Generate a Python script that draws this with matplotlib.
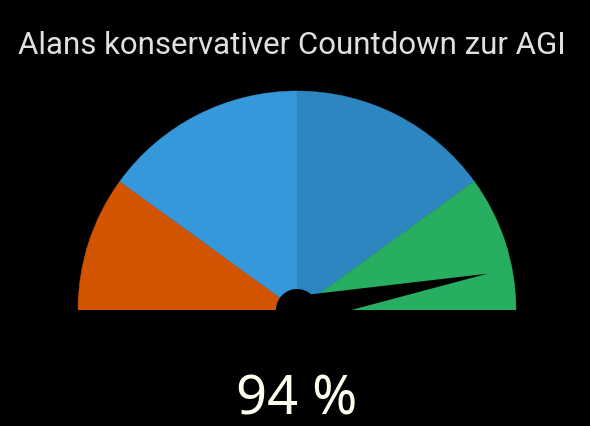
import numpy as np
import matplotlib.pyplot as plt
from matplotlib.patches import Wedge, Circle, Polygon

# Daten
titel = 'Alans konservativer Countdown zur AGI'
grenzen = [0, 20, 50, 80, 100]          # Segmentgrenzen in %
farben = ['#d35400', '#3498db', '#2e86c1', '#27ae60']
wert = 94

fig = plt.figure(figsize=(5.9, 4.27), dpi=100, facecolor='black')
ax = fig.add_axes([0, 0, 1, 1])
ax.set_facecolor('black')
ax.set_xlim(0, 590)
ax.set_ylim(427, 0)
ax.set_aspect('equal')
ax.axis('off')

cx, cy, r = 297, 311, 219

# Segmente (Winkel in Bildschirmkoordinaten: y nach unten)
for i in range(len(farben)):
    a1 = 180 + grenzen[i] * 1.8
    a2 = 180 + grenzen[i + 1] * 1.8
    ax.add_patch(Wedge((cx, cy), r, a1, a2, facecolor=farben[i],
                       edgecolor=farben[i], linewidth=0.3))

# Zeiger
phi = np.deg2rad(180 + wert * 1.8)
laenge = 194
breite = 14
spitze = (cx + laenge * np.cos(phi), cy + laenge * np.sin(phi))
nx, ny = -np.sin(phi), np.cos(phi)
basis1 = (cx + breite * nx, cy + breite * ny)
basis2 = (cx - breite * nx, cy - breite * ny)
ax.add_patch(Polygon([basis1, spitze, basis2], closed=True, facecolor='black', edgecolor='none'))
ax.add_patch(Circle((cx, cy), 21, facecolor='black', edgecolor='none'))

# Schwarzer Streifen unter der Grundlinie
ax.add_patch(plt.Rectangle((0, cy), 590, 427 - cy, facecolor='black', edgecolor='none'))

ax.text(292, 46, titel, color='#e0e0e0', fontsize=22.5, family='Roboto',
        ha='center', va='center')
ax.text(297, 415, f'{wert} %', color='#fffff0', fontsize=39, family='Noto Sans',
        ha='center', va='baseline')

plt.savefig('out.png', dpi=100, facecolor='black')
plt.close()
